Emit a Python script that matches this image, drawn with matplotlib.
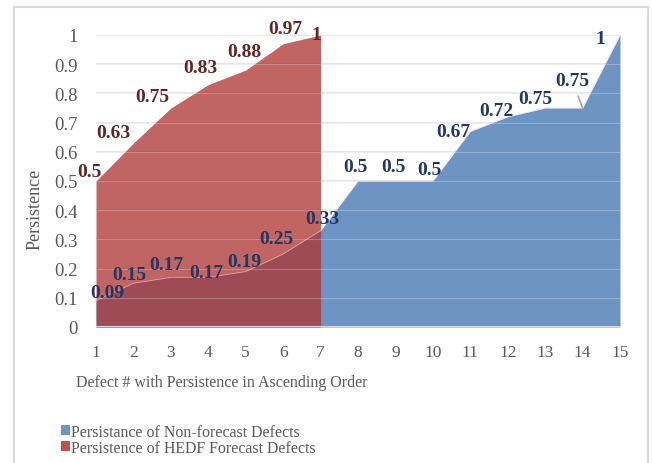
import matplotlib
matplotlib.use("Agg")
import matplotlib.pyplot as plt
from matplotlib.patches import Rectangle

defects = list(range(1, 16))
non_forecast = [0.09, 0.15, 0.17, 0.17, 0.19, 0.25, 0.33, 0.5, 0.5, 0.5, 0.67, 0.72, 0.75, 0.75, 1]
hedf_x = list(range(1, 8))
hedf = [0.5, 0.63, 0.75, 0.83, 0.88, 0.97, 1]
yticks = [0, 0.1, 0.2, 0.3, 0.4, 0.5, 0.6, 0.7, 0.8, 0.9, 1]
ytick_labels = ["0", "0.1", "0.2", "0.3", "0.4", "0.5", "0.6", "0.7", "0.8", "0.9", "1"]
name_blue = "Persistance of Non-forecast Defects"
name_red = "Persistence of HEDF Forecast Defects"
xlabel = "Defect # with Persistence in Ascending Order"
ylabel = "Persistence"

# label offsets in pixels (style only)
blue_off = [(11, 8), (-4, 9), (-5, 13), (-2, 5), (-1, 10), (-7, 15), (2, 12), (-3, 14),
            (-2, 14), (-3, 11), (-17, 0), (-11, 6), (-10, 10), (-10, 27), (-20, -4)]
red_off = [(-7, 9), (-20, 11), (-19, 12), (-8, 17), (-1, 19), (2, 15), (-4, 1)]

plt.rcParams['font.family'] = ['Liberation Serif', 'DejaVu Serif']

fig = plt.figure(figsize=(6.52, 4.64), dpi=100)
# outer border
fig.patches.append(Rectangle((14 / 652, -0.01), (648 - 14) / 652, 1 - 8 / 464 + 0.01,
                             transform=fig.transFigure, fill=False, edgecolor="#D9D9D9",
                             linewidth=1.5))
ax = fig.add_axes([96 / 652, 1 - 328 / 464, (620 - 96) / 652, (328 - 36) / 464])

blue = "#6D94C3"
red = "#AF3535"
ax.fill_between(defects, non_forecast, 0, color=blue, linewidth=0, zorder=2, label=name_blue)
ax.fill_between(hedf_x, hedf, 0, color=red, alpha=0.77, linewidth=0, zorder=3, label=name_red)
ax.plot(defects, non_forecast, color="#F0C8C8", lw=0.6, alpha=0.6, zorder=4)

ax.set_xlim(1, 15)
ax.set_ylim(0, 1)
ax.set_yticks(yticks)
ax.set_yticklabels(ytick_labels)
ax.set_xticks(defects)
ax.tick_params(length=0, colors="#595959")
ax.tick_params(axis='x', pad=12, labelsize=12.5)
ax.tick_params(axis='y', pad=13, labelsize=13.5)
for y in yticks[1:]:
    ax.axhline(y, color="#E3E3E3", lw=1.2, zorder=1)
    ax.axhline(y, color="white", lw=0.8, alpha=0.25, zorder=5)
ax.axhline(0, color="#D9D9D9", lw=1.5, zorder=6)
for s in ax.spines.values():
    s.set_visible(False)

for i, (x, v) in enumerate(zip(defects, non_forecast)):
    dx, dy = blue_off[i]
    kw = {}
    if i == 13:
        kw['arrowprops'] = dict(arrowstyle='-', color="#A6A6A6", lw=1.2, shrinkA=3, shrinkB=0)
    ax.annotate(f"{v:g}", (x, v), xytext=(dx, dy), textcoords='offset pixels',
                ha='center', va='center', fontsize=14, fontweight='bold', color="#1F3864",
                zorder=7, **kw)
for i, (x, v) in enumerate(zip(hedf_x, hedf)):
    dx, dy = red_off[i]
    ax.annotate(f"{v:g}", (x, v), xytext=(dx, dy), textcoords='offset pixels',
                ha='center', va='center', fontsize=14, fontweight='bold', color="#632523",
                zorder=7)

fig.text(222 / 652, 1 - 383 / 464, xlabel, ha='center', va='center', fontsize=11.5, color="#595959")
fig.text(35 / 652, 1 - 209 / 464, ylabel, ha='center', va='center', rotation=90, fontsize=13,
         color="#595959")

leg = fig.legend(handles=[ax.collections[0], ax.collections[1]], labels=[name_blue, name_red],
                 loc='upper left', bbox_to_anchor=(53 / 652, 1 - 417 / 464), frameon=False,
                 fontsize=11.4, handlelength=0.55, handleheight=0.6, handletextpad=0.1,
                 labelspacing=0.0, borderpad=0)
for t in leg.get_texts():
    t.set_color("#595959")
leg.legend_handles[1].set_alpha(0.85)

fig.savefig("out.png", dpi=100)
